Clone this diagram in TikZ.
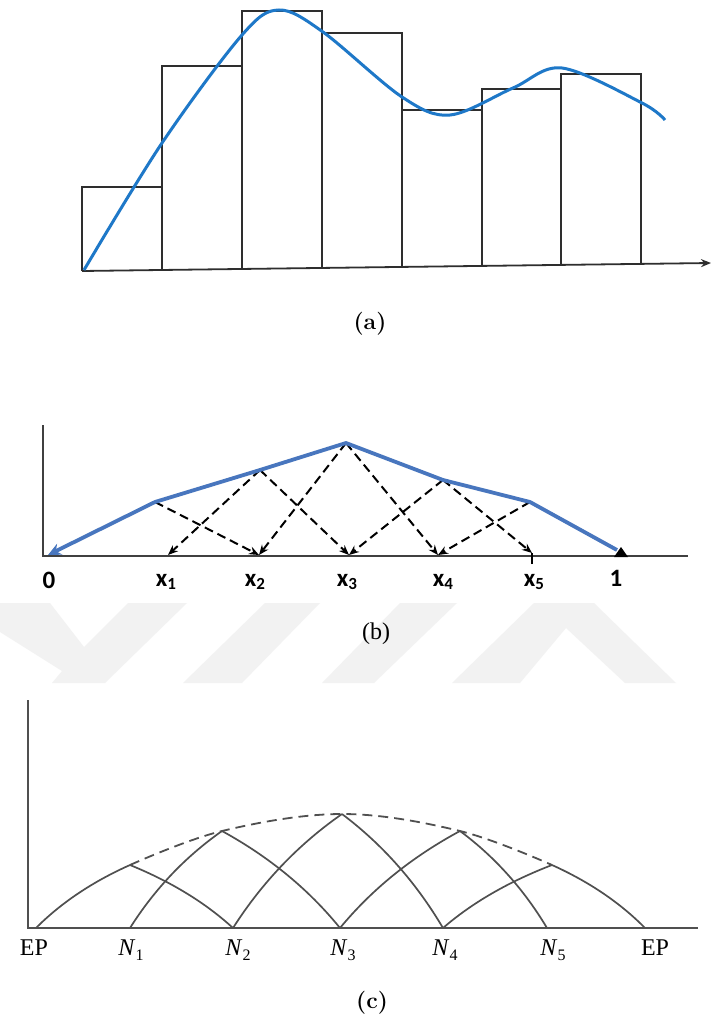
\documentclass[tikz,border=0pt]{standalone}
\usepackage{fontspec}
\newfontfamily\carlito{Carlito}
\newfontfamily\libserif{Liberation Serif}
\usetikzlibrary{arrows.meta,calc}
\definecolor{curveblue}{RGB}{30,120,200}
\definecolor{lineblue}{RGB}{72,118,190}
\definecolor{wmark}{RGB}{242,242,242}
\definecolor{fuzzygray}{RGB}{80,80,80}
\newcommand{\qarc}[3]{\draw[fuzzyline] (#1) .. controls ($(#1)!0.6667!(#2)$) and ($(#3)!0.6667!(#2)$) .. (#3);}
\begin{document}
\begin{tikzpicture}[x=1pt,y=-1pt,
  bar/.style={draw=black!82,line width=1.8pt,line join=miter},
  fitcurve/.style={draw=curveblue,line width=3pt},
  bluepoly/.style={draw=lineblue,line width=3.8pt,line join=round},
  dasharrow/.style={draw=black,line width=2pt,dash pattern=on 9pt off 5pt,-{Stealth[length=10pt,width=8pt]}},
  axisb/.style={draw=black!75,line width=2pt},
  axisc/.style={draw=fuzzygray,line width=2.2pt},
  fuzzyline/.style={draw=fuzzygray,line width=1.7pt},
  peakdash/.style={draw=fuzzygray,line width=1.8pt,dash pattern=on 10pt off 6pt},
  blabel/.style={font=\carlito\bfseries\fontsize{25}{25}\selectfont,inner sep=0pt},
  clabel/.style={font=\libserif\fontsize{24}{24}\selectfont,inner sep=0pt},
  figcap/.style={font=\fontsize{23}{23}\selectfont\bfseries,inner sep=0pt}
]
\useasboundingbox (0,0) rectangle (712,1030);
\fill[white] (0,0) rectangle (712,1030);

% ---------- watermark ----------
\fill[wmark] (0,603) -- (50,603) -- (84,647) -- (128,603) -- (187,603) -- (105,683) -- (52,683) -- (62,671) -- (0,632) -- cycle;
\fill[wmark] (265,603) -- (320,603) -- (242,683) -- (183,683) -- cycle;
\fill[wmark] (400,603) -- (457,603) -- (374,683) -- (322,683) -- cycle;
\fill[wmark] (534,603) -- (594,603) -- (676,683) -- (625,683) -- (566,628) -- (520,683) -- (452,683) -- cycle;

% ---------- panel (a) ----------
\coordinate (a0) at (82,271);
\coordinate (aend) at (711,263);
\draw[bar] (82,271) |- (162,187) -- (162,270);
\draw[bar] (162,270) |- (242,66) -- (242,269);
\draw[bar] (242,269) |- (322,11) -- (322,268);
\draw[bar] (322,268) |- (402,33) -- (402,267);
\draw[bar] (402,267) |- (482,110) -- (482,266);
\draw[bar] (482,266) |- (561,89) -- (561,265);
\draw[bar] (561,265) |- (641,74) -- (641,264);
\draw[bar,-{Stealth[length=10pt,width=8pt]}] (a0) -- (aend);
\draw[fitcurve] plot[smooth,tension=0.55] coordinates {(84,270) (162,143) (242,35) (279,10) (323,32) (402,97) (450,115) (513,88) (562,68) (642,103) (665,120)};
\node[figcap] (capa) at (370,324) {\textbf{(a)}};

% ---------- panel (b) ----------
\coordinate (bo) at (43,556);
\coordinate (btop) at (43,425);
\coordinate (bright) at (688,556);
\draw[axisb] (btop) -- (bo) -- (bright);
\coordinate (b0) at (48,555);
\coordinate (b1) at (168,555);
\coordinate (b2) at (259,555);
\coordinate (b3) at (349,555);
\coordinate (b4) at (438,555);
\coordinate (b5) at (532,553);
\coordinate (b6) at (617,550);
\coordinate (p1) at (155,502);
\coordinate (p2) at (260,470);
\coordinate (p3) at (346,443);
\coordinate (p4) at (443,480);
\coordinate (p5) at (530,502);
\coordinate (t5) at (532,564);
\draw[line width=2pt] (t5) -- (b5);
\draw[dasharrow] (p1) -- (b2);
\draw[dasharrow] (p2) -- (b1);
\draw[dasharrow] (p2) -- (b3);
\draw[dasharrow] (p3) -- (b2);
\draw[dasharrow] (p3) -- (b4);
\draw[dasharrow] (p4) -- (b3);
\draw[dasharrow] (p4) -- (b5);
\draw[dasharrow] (p5) -- (b4);
\draw[bluepoly,{Stealth[length=13pt,width=12pt]}-] (b0) -- (p1) -- (p2) -- (p3) -- (p4) -- (p5) -- (b6);
\fill (614,557) -- (621,547) -- (628,557) -- cycle;
\node[blabel] (l0) at (49,580) {0};
\node[blabel] (l1) at (166,582) {x\raisebox{-3.5pt}{\fontsize{17}{17}\selectfont 1}};
\node[blabel] (l2) at (255,582) {x\raisebox{-3.5pt}{\fontsize{17}{17}\selectfont 2}};
\node[blabel] (l3) at (347,582) {x\raisebox{-3.5pt}{\fontsize{17}{17}\selectfont 3}};
\node[blabel] (l4) at (443,582) {x\raisebox{-3.5pt}{\fontsize{17}{17}\selectfont 4}};
\node[blabel] (l5) at (534,582) {x\raisebox{-3.5pt}{\fontsize{17}{17}\selectfont 5}};
\node[blabel] (l6) at (616,578) {1};
\node[font=\libserif\fontsize{24}{24}\selectfont,inner sep=0pt] (capb) at (376,634) {(b)};

% ---------- panel (c) ----------
\coordinate (co) at (28,928);
\coordinate (ctop) at (28,700);
\coordinate (cright) at (698,928);
\draw[axisc] (ctop) -- (co) -- (cright);
\coordinate (e0) at (36,928);
\coordinate (n1) at (130,928);
\coordinate (n2) at (233,928);
\coordinate (n3) at (340,928);
\coordinate (n4) at (443,928);
\coordinate (n5) at (547,928);
\coordinate (e6) at (645,928);
\coordinate (q1) at (130,865);
\coordinate (q2) at (222,831);
\coordinate (q3) at (342,814);
\coordinate (q4) at (460,831);
\coordinate (q5) at (552,865);
% control points
\coordinate (r1) at (73.6,890.2);
\coordinate (r2) at (166.8,869.8);
\coordinate (r3) at (276.6,859.6);
\coordinate (r4) at (388,869.8);
\coordinate (r5) at (486.6,890.2);
\coordinate (d1) at (191.8,890.2);
\coordinate (d2) at (292.8,869.8);
\coordinate (d3) at (402.6,859.6);
\coordinate (d4) at (512.2,869.8);
\coordinate (d5) at (607.8,890.2);
\qarc{e0}{r1}{q1}
\qarc{n1}{r2}{q2}
\qarc{n2}{r3}{q3}
\qarc{n3}{r4}{q4}
\qarc{n4}{r5}{q5}
\qarc{q1}{d1}{n2}
\qarc{q2}{d2}{n3}
\qarc{q3}{d3}{n4}
\qarc{q4}{d4}{n5}
\qarc{q5}{d5}{e6}
\draw[peakdash] plot[smooth,tension=0.6] coordinates {(q1) (q2) (q3) (q4) (q5)};
\node[clabel,anchor=north] (ce0) at (34,940) {EP};
\node[clabel,anchor=north] (cn1) at (131,940) {\textit{N}\raisebox{-5pt}{\fontsize{16}{16}\selectfont 1}};
\node[clabel,anchor=north] (cn2) at (238,940) {\textit{N}\raisebox{-5pt}{\fontsize{16}{16}\selectfont 2}};
\node[clabel,anchor=north] (cn3) at (343,940) {\textit{N}\raisebox{-5pt}{\fontsize{16}{16}\selectfont 3}};
\node[clabel,anchor=north] (cn4) at (445,940) {\textit{N}\raisebox{-5pt}{\fontsize{16}{16}\selectfont 4}};
\node[clabel,anchor=north] (cn5) at (553,940) {\textit{N}\raisebox{-5pt}{\fontsize{16}{16}\selectfont 5}};
\node[clabel,anchor=north] (ce6) at (655,940) {EP};
\node[figcap] (capc) at (372,1003) {\textbf{(c)}};
\end{tikzpicture}
\end{document}
